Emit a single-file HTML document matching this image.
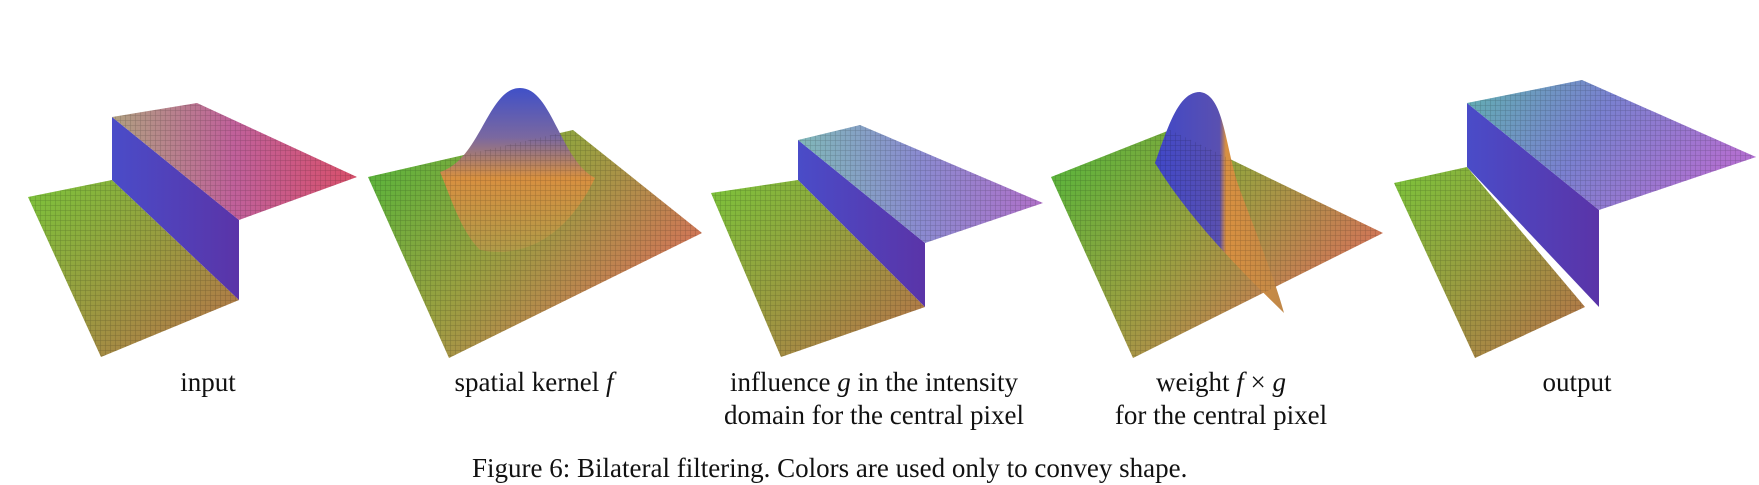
<!DOCTYPE html>
<html><head><meta charset="utf-8"><style>
html,body{margin:0;padding:0;background:#fff;}
body{width:1759px;height:463px;overflow:hidden;position:relative;font-family:"Liberation Serif",serif;}
svg{position:absolute;left:0;top:0;}
.lbl{position:absolute;font-size:27px;color:#111;text-align:center;line-height:33px;white-space:nowrap;transform:translateX(-50%);}
</style></head><body>
<svg width="1759" height="463">
<defs>
<linearGradient id="gLow" x1="0" y1="0" x2="1" y2="1"><stop offset="0" stop-color="#7ac43a"/><stop offset="0.5" stop-color="#9a9a40"/><stop offset="1" stop-color="#b8704a"/></linearGradient>
<linearGradient id="gWall" x1="0" y1="0" x2="1" y2="0"><stop offset="0" stop-color="#4a4cc8"/><stop offset="1" stop-color="#5a34a8"/></linearGradient>
<linearGradient id="gUp" x1="0" y1="0" x2="1" y2="0"><stop offset="0" stop-color="#b0a080"/><stop offset="0.5" stop-color="#c0609a"/><stop offset="1" stop-color="#d8506a"/></linearGradient>
<linearGradient id="gUp3" x1="0" y1="0" x2="1" y2="0"><stop offset="0" stop-color="#80b8b8"/><stop offset="0.5" stop-color="#8a8ad0"/><stop offset="1" stop-color="#b070c8"/></linearGradient>
<linearGradient id="gPlane" x1="0" y1="0" x2="1" y2="0.6"><stop offset="0" stop-color="#4fb83a"/><stop offset="0.5" stop-color="#98a040"/><stop offset="1" stop-color="#d8705a"/></linearGradient>
<linearGradient id="gBump" x1="0" y1="0" x2="0" y2="1"><stop offset="0" stop-color="#4050c8"/><stop offset="0.3" stop-color="#7a68a0"/><stop offset="0.55" stop-color="#d89040"/><stop offset="1" stop-color="#b09a48"/></linearGradient>
<linearGradient id="gBumpL" x1="0" y1="0" x2="1" y2="0"><stop offset="0" stop-color="#4048c8"/><stop offset="0.5" stop-color="#5a50b0"/><stop offset="0.55" stop-color="#d89040"/><stop offset="1" stop-color="#c08848"/></linearGradient>
<linearGradient id="gUp5" x1="0" y1="0" x2="1" y2="0.3"><stop offset="0" stop-color="#60b0b0"/><stop offset="0.5" stop-color="#7a80d0"/><stop offset="1" stop-color="#b070d0"/></linearGradient>
<pattern id="mesh" width="5" height="5" patternUnits="userSpaceOnUse"><path d="M0,0H5M0,0V5" stroke="#000" stroke-opacity="0.22" stroke-width="1"/></pattern>
</defs>
<g>
<polygon points="28,197 112,180 239,300 101,357" fill="url(#gLow)"/>
<polygon points="112,117 239,220 239,300 112,180" fill="url(#gWall)"/>
<polygon points="112,117 197,103 357,177 239,220" fill="url(#gUp)"/>
<polygon points="28,197 112,180 239,300 101,357" fill="url(#mesh)"/>
<polygon points="112,117 197,103 357,177 239,220" fill="url(#mesh)"/>
</g>
<g>
<polygon points="368,177 573,130 702,233 449,358" fill="url(#gPlane)"/>
<path d="M440,172 C480,160 488,88 520,88 C552,88 560,160 595,178 C570,230 530,260 480,250 C460,230 450,195 440,172 Z" fill="url(#gBump)"/>
<polygon points="368,177 573,130 702,233 449,358" fill="url(#mesh)"/>
</g>
<g>
<polygon points="711,193 798,180 925,307 781,357" fill="url(#gLow)"/>
<polygon points="798,140 925,243 925,307 798,180" fill="url(#gWall)"/>
<polygon points="798,140 860,125 1043,203 925,243" fill="url(#gUp3)"/>
<polygon points="711,193 798,180 925,307 781,357" fill="url(#mesh)"/>
<polygon points="798,140 860,125 1043,203 925,243" fill="url(#mesh)"/>
</g>
<g>
<polygon points="1051,177 1170,130 1383,233 1133,358" fill="url(#gPlane)"/>
<path d="M1155,163 C1170,120 1180,92 1200,92 C1225,95 1225,150 1240,190 C1255,230 1275,280 1284,313 C1240,270 1190,220 1155,163 Z" fill="url(#gBumpL)"/>
<polygon points="1051,177 1170,130 1383,233 1133,358" fill="url(#mesh)"/>
</g>
<g>
<polygon points="1394,183 1467,167 1585,307 1475,358" fill="url(#gLow)"/>
<polygon points="1467,103 1599,210 1599,307 1467,167" fill="url(#gWall)"/>
<polygon points="1467,103 1582,80 1756,157 1599,210" fill="url(#gUp5)"/>
<polygon points="1394,183 1467,167 1585,307 1475,358" fill="url(#mesh)"/>
<polygon points="1467,103 1582,80 1756,157 1599,210" fill="url(#mesh)"/>
</g>
</svg>
<div class="lbl" style="left:208px;top:366px">input</div>
<div class="lbl" style="left:534px;top:366px">spatial kernel <i>f</i></div>
<div class="lbl" style="left:874px;top:366px">influence <i>g</i> in the intensity<br>domain for the central pixel</div>
<div class="lbl" style="left:1221px;top:366px">weight <i>f</i> × <i>g</i><br>for the central pixel</div>
<div class="lbl" style="left:1577px;top:366px">output</div>
<div class="lbl" style="left:472px;top:452px;transform:none">Figure 6: Bilateral filtering. Colors are used only to convey shape.</div>
</body></html>
